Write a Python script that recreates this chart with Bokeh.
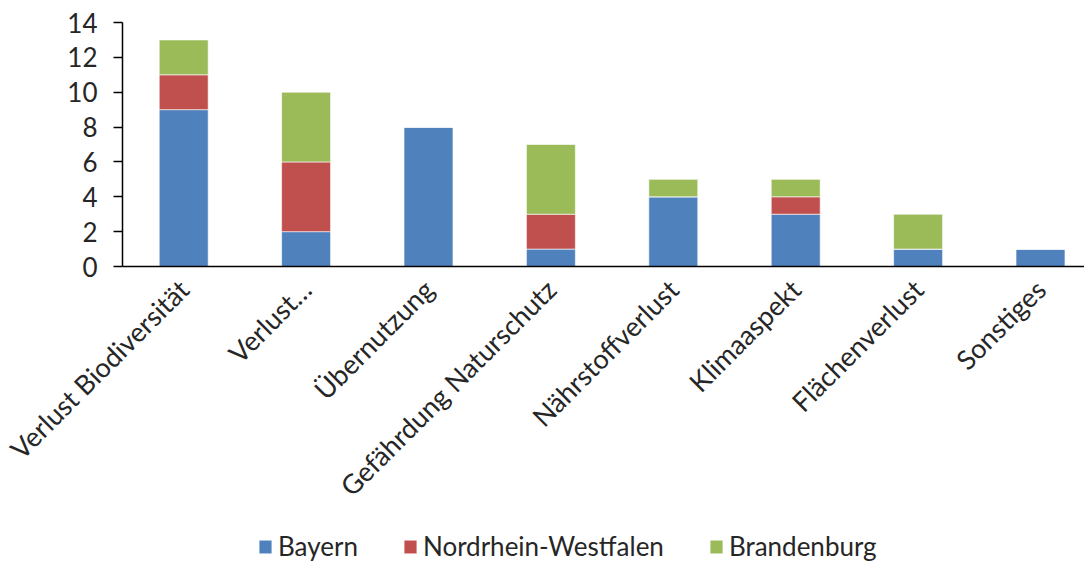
from bokeh.plotting import figure
from bokeh.models import Legend, LegendItem, Range1d, FixedTicker, ColumnDataSource
from bokeh.embed import file_html
from bokeh.resources import INLINE
import math

categories = ["Verlust Biodiversität", "Verlust…", "Übernutzung", "Gefährdung Naturschutz",
              "Nährstoffverlust", "Klimaaspekt", "Flächenverlust", "Sonstiges"]
bayern = [9, 2, 8, 1, 4, 3, 1, 1]
nrw = [2, 4, 0, 2, 0, 1, 0, 0]
brandenburg = [2, 4, 0, 4, 1, 1, 2, 0]
series_names = ["Bayern", "Nordrhein-Westfalen", "Brandenburg"]
colors = ["#4F81BD", "#C0504D", "#9BBB59"]
y_ticks = [0, 2, 4, 6, 8, 10, 12, 14]

FONT = "Lato"
FS = "26px"
TXT = "#262626"

x_pos = [i + 0.5 for i in range(len(categories))]
src = ColumnDataSource(dict(x=x_pos, Bayern=bayern, NRW=nrw, Brandenburg=brandenburg))

W, H = 1084, 563
AXIS_X, AXIS_Y = 122, 266          # pixel position of the axes' origin
PX_PER_CAT = 122.4
PX_PER_UNIT = 244 / 14

x_start = -AXIS_X / PX_PER_CAT
x_end = (W - AXIS_X) / PX_PER_CAT
y_end = AXIS_Y / PX_PER_UNIT
y_start = -(H - AXIS_Y) / PX_PER_UNIT

p = figure(x_range=Range1d(x_start, x_end), y_range=Range1d(y_start, y_end),
           frame_width=W, frame_height=H, output_backend="svg", toolbar_location=None,
           min_border_left=0, min_border_right=0, min_border_top=0, min_border_bottom=0)

renderers = p.vbar_stack(["Bayern", "NRW", "Brandenburg"], x="x", width=0.4, source=src,
                         color=colors, line_color="white", line_width=1, line_alpha=0.6)

p.outline_line_color = None
p.xgrid.grid_line_color = None
p.ygrid.grid_line_color = None
p.background_fill_color = "white"
p.border_fill_color = "white"

p.yaxis.fixed_location = 0
p.yaxis.ticker = FixedTicker(ticks=y_ticks)
p.yaxis.bounds = (0, 14)
p.yaxis.minor_tick_line_color = None
p.yaxis.major_tick_in = 0
p.yaxis.major_tick_out = 9
p.yaxis.axis_line_color = "black"
p.yaxis.axis_line_width = 1.5
p.yaxis.major_tick_line_color = "black"
p.yaxis.major_tick_line_width = 1.5
p.yaxis.major_label_text_font = FONT
p.yaxis.major_label_text_font_size = FS
p.yaxis.major_label_text_color = TXT
p.yaxis.major_label_standoff = 16

p.xaxis.fixed_location = 0
p.xaxis.ticker = FixedTicker(ticks=x_pos)
p.xaxis.bounds = (0, x_end)
p.xaxis.major_label_overrides = {x: c for x, c in zip(x_pos, categories)}
p.xaxis.major_tick_line_color = None
p.xaxis.minor_tick_line_color = None
p.xaxis.axis_line_color = "black"
p.xaxis.axis_line_width = 1.5
p.xaxis.major_label_orientation = math.pi / 4
p.xaxis.major_label_text_font = FONT
p.xaxis.major_label_text_font_size = "27px"
p.xaxis.major_label_text_color = TXT
p.xaxis.major_label_standoff = 12

items = [LegendItem(label=n, renderers=[r]) for n, r in zip(series_names, renderers)]
legend = Legend(items=items, orientation="horizontal", location=(257, 1),
                label_text_font=FONT, label_text_font_size=FS, label_text_color=TXT,
                glyph_width=16, glyph_height=17, label_standoff=5, spacing=44,
                border_line_color=None, background_fill_alpha=0, padding=0, margin=0)
p.add_layout(legend, "center")

open("out.html", "w").write(file_html(p, INLINE))
